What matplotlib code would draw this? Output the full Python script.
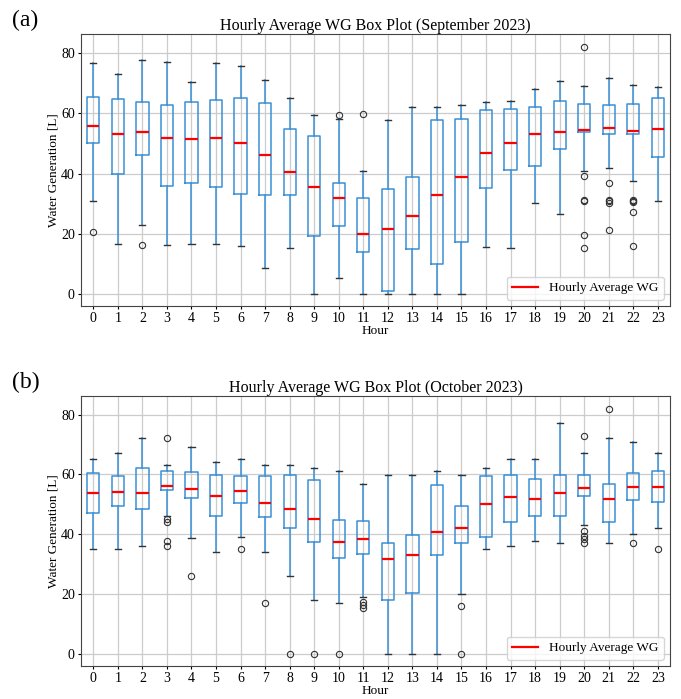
import matplotlib
matplotlib.use("Agg")
import matplotlib.pyplot as plt
from matplotlib.lines import Line2D

plt.rcParams["font.family"] = ["Liberation Serif", "DejaVu Serif"]

hours = list(range(24))

# September 2023 (panel a)
sep_whislo = [30.7, 16.7, 22.8, 16.2, 16.7, 16.4, 15.8, 8.6, 15.1, 0.0, 5.2, 0.0,
              0.0, 0.0, 0.0, 0.0, 15.6, 15.3, 30.2, 26.6, 40.8, 41.9, 37.6, 30.7]
sep_q1 = [50.0, 39.8, 46.3, 35.9, 37.0, 35.4, 33.3, 33.0, 32.9, 19.1, 22.7, 13.9,
          0.8, 14.8, 9.9, 17.3, 35.2, 41.1, 42.6, 48.1, 53.7, 53.2, 53.0, 45.6]
sep_med = [55.7, 53.1, 53.8, 51.9, 51.6, 51.9, 50.0, 46.2, 40.6, 35.6, 32.0, 20.0,
           21.7, 25.8, 33.0, 38.9, 46.7, 50.2, 53.0, 53.8, 54.6, 55.2, 54.2, 54.9]
sep_q3 = [65.6, 64.7, 63.7, 62.8, 63.9, 64.3, 65.2, 63.3, 54.7, 52.4, 37.0, 31.7,
          34.8, 38.9, 57.8, 58.2, 61.0, 61.6, 62.2, 64.1, 63.2, 62.8, 63.2, 65.1]
sep_whishi = [76.7, 73.0, 77.8, 77.0, 70.4, 76.8, 75.6, 71.0, 65.0, 59.3, 58.1, 40.7,
              57.8, 62.1, 62.1, 62.8, 63.8, 64.0, 68.2, 70.7, 69.0, 71.8, 69.4, 68.8]
sep_fliers = [[20.7], [], [16.1], [], [], [], [], [], [], [], [59.4], [59.8],
              [], [], [], [], [], [], [], [],
              [82.2, 39.3, 31.3, 30.7, 19.4, 15.1],
              [36.9, 31.2, 30.8, 30.3, 21.1],
              [31.1, 30.8, 30.4, 27.1, 15.8],
              []]

# October 2023 (panel b)
oct_whislo = [35.0, 35.0, 36.1, 46.0, 38.8, 34.0, 39.2, 34.0, 26.0, 18.1, 17.1, 18.9,
              0.0, 0.0, 0.0, 19.9, 35.0, 36.1, 37.7, 37.0, 43.1, 37.0, 40.0, 42.0]
oct_q1 = [47.0, 49.3, 48.6, 54.7, 52.0, 46.0, 50.6, 45.7, 42.0, 37.3, 32.0, 33.5,
          18.1, 20.4, 33.1, 37.0, 39.1, 44.2, 46.0, 46.0, 52.9, 44.0, 51.6, 50.9]
oct_med = [53.9, 54.1, 53.7, 56.2, 55.2, 52.7, 54.3, 50.4, 48.6, 45.1, 37.5, 38.3,
           31.8, 33.1, 40.9, 42.1, 50.2, 52.3, 51.7, 53.9, 55.5, 51.7, 55.8, 55.7]
oct_q3 = [60.4, 59.6, 62.0, 61.1, 60.9, 59.9, 59.6, 59.4, 59.8, 58.1, 44.8, 44.4,
          37.0, 39.7, 56.5, 49.4, 59.4, 59.9, 58.6, 59.9, 59.9, 56.8, 60.4, 61.1]
oct_whishi = [65.1, 67.1, 72.2, 63.0, 69.2, 64.1, 65.1, 63.0, 63.0, 62.0, 61.1, 56.9,
              59.9, 59.9, 61.1, 59.9, 62.0, 65.1, 65.1, 77.1, 67.1, 72.2, 70.9, 67.1]
oct_fliers = [[], [], [], [72.2, 45.1, 44.1, 37.8, 36.2], [26.1], [], [35.0], [17.1],
              [0.0], [0.0], [0.0], [17.4, 16.3, 15.2],
              [], [], [], [15.9, 0.0], [], [], [], [],
              [73.0, 41.2, 39.5, 38.4, 37.1], [82.0], [37.0], [35.0]]


def build_stats(whislo, q1, med, q3, whishi, fliers):
    stats = []
    for i in range(len(med)):
        stats.append({"whislo": whislo[i], "q1": q1[i], "med": med[i],
                      "q3": q3[i], "whishi": whishi[i], "fliers": fliers[i]})
    return stats


def draw_panel(ax, stats, title):
    ax.bxp(stats, positions=range(1, len(stats) + 1), widths=0.5,
           boxprops=dict(color="#3a8fd6", linewidth=1.1),
           whiskerprops=dict(color="#3a8fd6", linewidth=1.1),
           capprops=dict(color="#333333", linewidth=1.0),
           medianprops=dict(color="red", linewidth=1.6),
           flierprops=dict(marker="o", markersize=4.5, markerfacecolor="none",
                           markeredgecolor="#333333", markeredgewidth=0.8))
    ax.set_xticks(range(1, len(stats) + 1))
    ax.set_xticklabels([str(h) for h in hours])
    ax.set_xlim(0.5, len(stats) + 0.5)
    ax.set_yticks([0, 20, 40, 60, 80])
    ax.grid(True, color="#cccccc", linewidth=0.9)
    ax.set_axisbelow(True)
    ax.tick_params(labelsize=10, length=2.5, pad=2)
    ax.set_title(title, fontsize=11.5, pad=3)
    ax.set_xlabel("Hour", fontsize=9.5, labelpad=0)
    ax.set_ylabel("Water Generation [L]", fontsize=9.5, labelpad=1)
    for s in ax.spines.values():
        s.set_color("#444444")
    # legend entry for the red median lines
    handle = Line2D([], [], color="red", linewidth=1.6)
    ax.legend([handle], ["Hourly Average WG"], loc="lower right", fontsize=9.5)


fig = plt.figure(figsize=(6.81, 6.99), dpi=100)
ax1 = fig.add_axes([0.119, 0.562, 0.865, 0.389])
ax2 = fig.add_axes([0.119, 0.047, 0.865, 0.386])

draw_panel(ax1, build_stats(sep_whislo, sep_q1, sep_med, sep_q3, sep_whishi, sep_fliers),
           "Hourly Average WG Box Plot (September 2023)")
draw_panel(ax2, build_stats(oct_whislo, oct_q1, oct_med, oct_q3, oct_whishi, oct_fliers),
           "Hourly Average WG Box Plot (October 2023)")

fig.text(0.018, 1 - 20 / 699, "(a)", fontsize=17, va="center")
fig.text(0.018, 1 - 382 / 699, "(b)", fontsize=17, va="center")

fig.savefig("out.png", dpi=100)
